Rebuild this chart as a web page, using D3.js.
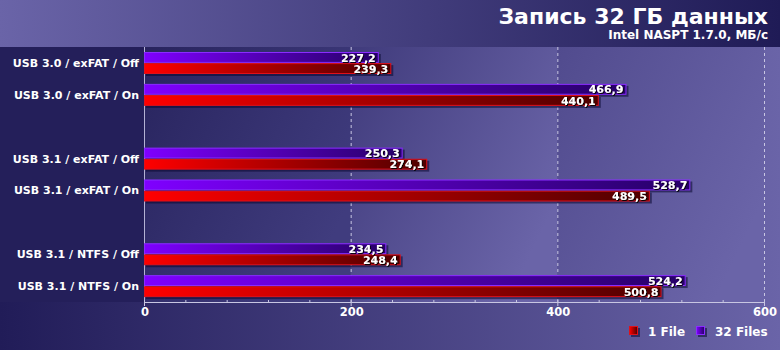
<!DOCTYPE html>
<html>
<head>
<meta charset="utf-8">
<script src="https://cdn.jsdelivr.net/npm/d3@7"></script>
<style>
html,body{margin:0;padding:0;background:#211c58;}
svg{display:block;}
text{font-family:"DejaVu Sans",Verdana,sans-serif;font-weight:bold;fill:#fff;}
</style>
</head>
<body>
<svg id="chart" width="780" height="350"></svg>
<script>
// ---- data ----
const title = "Запись 32 ГБ данных";
const subtitle = "Intel NASPT 1.7.0, МБ/с";
const categories = [
  "USB 3.0 / exFAT / Off",
  "USB 3.0 / exFAT / On",
  "USB 3.1 / exFAT / Off",
  "USB 3.1 / exFAT / On",
  "USB 3.1 / NTFS / Off",
  "USB 3.1 / NTFS / On"
];
const groupOf = [0, 0, 1, 1, 2, 2];
const seriesNames = ["1 File", "32 Files"];
const oneFile = [239.3, 440.1, 274.1, 489.5, 248.4, 500.8];
const files32 = [227.2, 466.9, 250.3, 528.7, 234.5, 524.2];
const xTicks = [0, 200, 400, 600];
const xMax = 600;

// ---- layout ----
const W = 780, H = 350;
const plot = {left: 144, right: 764, top: 47, bottom: 302};
const svg = d3.select("#chart");
const defs = svg.append("defs");

function lin(id, stops, x2 = 1, y2 = 0) {
  const g = defs.append("linearGradient").attr("id", id)
    .attr("x1", 0).attr("y1", 0).attr("x2", x2).attr("y2", y2);
  stops.forEach(([o, c]) => g.append("stop").attr("offset", o).attr("stop-color", c));
}
lin("bgGrad", [[0, "#211c58"], [1, "#6a64a8"]]);
lin("headGrad", [[0, "#6a64a8"], [1, "#1f1b56"]]);
lin("band0", [[0, "#28245e"], [1, "#403c7e"]], 1, 0.6);
lin("band1", [[0, "#403b7c"], [1, "#6a64a8"]], 1, 0.6);
lin("band2", [[0, "#514b8e"], [1, "#6a64a8"]], 1, 0.6);
lin("gradRed", [[0, "#ff0000"], [1, "#4e0000"]]);
lin("gradPur", [[0, "#7f00ff"], [1, "#260068"]]);

const shadow = defs.append("filter").attr("id", "ts").attr("x", "-20%").attr("y", "-20%").attr("width", "140%").attr("height", "140%");
shadow.append("feDropShadow").attr("dx", 1).attr("dy", 1).attr("stdDeviation", 0.4)
  .attr("flood-color", "#000").attr("flood-opacity", 0.9);

// backgrounds
svg.append("rect").attr("width", W).attr("height", H).attr("fill", "url(#bgGrad)");
svg.append("rect").attr("width", W).attr("height", plot.top).attr("fill", "url(#headGrad)");
svg.append("rect").attr("x", 0).attr("y", plot.top).attr("width", plot.left)
  .attr("height", plot.bottom - plot.top).attr("fill", "#241f5a");

// scales
const x = d3.scaleLinear().domain([0, xMax]).range([plot.left, plot.right]);
const nSlots = categories.length + d3.max(groupOf);
const slot = d3.scaleBand().domain(d3.range(nSlots)).range([plot.top, plot.bottom]).paddingInner(0);
const sub = d3.scaleBand().domain([1, 0]).range([5, 27]).paddingInner(0.02);
const slotOf = i => i + groupOf[i];

// plot bands
for (let b = 0; b < xTicks.length - 1; b++) {
  svg.append("rect").attr("x", x(xTicks[b])).attr("y", plot.top)
    .attr("width", x(xTicks[b + 1]) - x(xTicks[b])).attr("height", plot.bottom - plot.top)
    .attr("fill", `url(#band${b})`);
}

// grid
svg.append("g").selectAll("line").data(xTicks.slice(1)).join("line")
  .attr("x1", d => x(d) + 0.5).attr("x2", d => x(d) + 0.5)
  .attr("y1", plot.top).attr("y2", plot.bottom)
  .attr("stroke", "#c8c6e2").attr("stroke-width", 1).attr("stroke-dasharray", "3,3");
svg.append("line").attr("x1", plot.left + 0.5).attr("x2", plot.left + 0.5)
  .attr("y1", plot.top).attr("y2", plot.bottom + 3)
  .attr("stroke", "#b4b2d4").attr("stroke-width", 1);

// bars
const rows = categories.map((c, i) => ({c, i, vals: [oneFile[i], files32[i]]}));
const bars = [];
rows.forEach(r => r.vals.forEach((v, s) => bars.push({i: r.i, s, v})));

const barG = svg.append("g");
barG.selectAll("rect.sh").data(bars).join("rect").attr("class", "sh")
  .attr("x", x(0) + 2)
  .attr("y", d => slot(slotOf(d.i)) + sub(d.s) + 2)
  .attr("width", d => x(d.v) - x(0))
  .attr("height", sub.bandwidth())
  .attr("fill", "#0a0830").attr("opacity", 0.55);
barG.selectAll("rect.bar").data(bars).join("rect").attr("class", "bar")
  .attr("x", x(0) + 0.5)
  .attr("y", d => slot(slotOf(d.i)) + sub(d.s) + 0.5)
  .attr("width", d => x(d.v) - x(0) - 1)
  .attr("height", sub.bandwidth() - 1)
  .attr("fill", d => d.s === 0 ? "url(#gradRed)" : "url(#gradPur)")
  .attr("stroke", d => d.s === 0 ? "#e0101a" : "#8a2cff")
  .attr("stroke-width", 1);

// value labels
const fmt = v => v.toFixed(1).replace(".", ",");
barG.selectAll("text.val").data(bars).join("text").attr("class", "val")
  .attr("x", d => x(d.v) - 3)
  .attr("y", d => slot(slotOf(d.i)) + sub(d.s) + sub.bandwidth() / 2)
  .attr("dy", "0.38em")
  .attr("text-anchor", "end")
  .attr("font-size", "11px")
  .attr("filter", "url(#ts)")
  .text(d => fmt(d.v));

// category labels
svg.append("g").selectAll("text").data(rows).join("text")
  .attr("x", plot.left - 5)
  .attr("y", d => slot(slotOf(d.i)) + 16)
  .attr("dy", "0.36em")
  .attr("text-anchor", "end")
  .attr("font-size", "11px")
  .text(d => d.c);

// x axis
const axisG = svg.append("g").attr("transform", `translate(0,${plot.bottom})`);
axisG.append("line").attr("x1", plot.left).attr("x2", plot.right + 1)
  .attr("y1", 0.5).attr("y2", 0.5).attr("stroke", "#c8c6e2");
const minor = d3.range(0, xMax + 1, 40);
axisG.selectAll("line.mt").data(minor).join("line").attr("class", "mt")
  .attr("x1", d => x(d) + 0.5).attr("x2", d => x(d) + 0.5)
  .attr("y1", -2).attr("y2", d => xTicks.includes(d) ? 4 : 1)
  .attr("stroke", "#c8c6e2");
axisG.selectAll("text").data(xTicks).join("text")
  .attr("x", d => x(d) + 1).attr("y", 14)
  .attr("text-anchor", "middle")
  .attr("font-size", "11.5px")
  .text(d => d);

// title
svg.append("text").attr("x", 768).attr("y", 24).attr("text-anchor", "end")
  .attr("font-size", "22px").text(title);
svg.append("text").attr("x", 768).attr("y", 39).attr("text-anchor", "end")
  .attr("font-size", "12px").text(subtitle);

// legend
const legend = svg.append("g");
const legItems = [
  {name: seriesNames[0], fill: "url(#gradRed)", stroke: "#e0101a", x: 629},
  {name: seriesNames[1], fill: "url(#gradPur)", stroke: "#8a2cff", x: 696}
];
legItems.forEach(it => {
  legend.append("rect").attr("x", it.x + 2).attr("y", 328).attr("width", 9).attr("height", 9)
    .attr("fill", "#0a0830").attr("opacity", 0.55);
  legend.append("rect").attr("x", it.x + 0.5).attr("y", 326.5).attr("width", 8).attr("height", 8)
    .attr("fill", it.fill).attr("stroke", it.stroke);
  legend.append("text").attr("x", it.x + 19).attr("y", 335.5).attr("font-size", "12px").text(it.name);
});
</script>
</body>
</html>
